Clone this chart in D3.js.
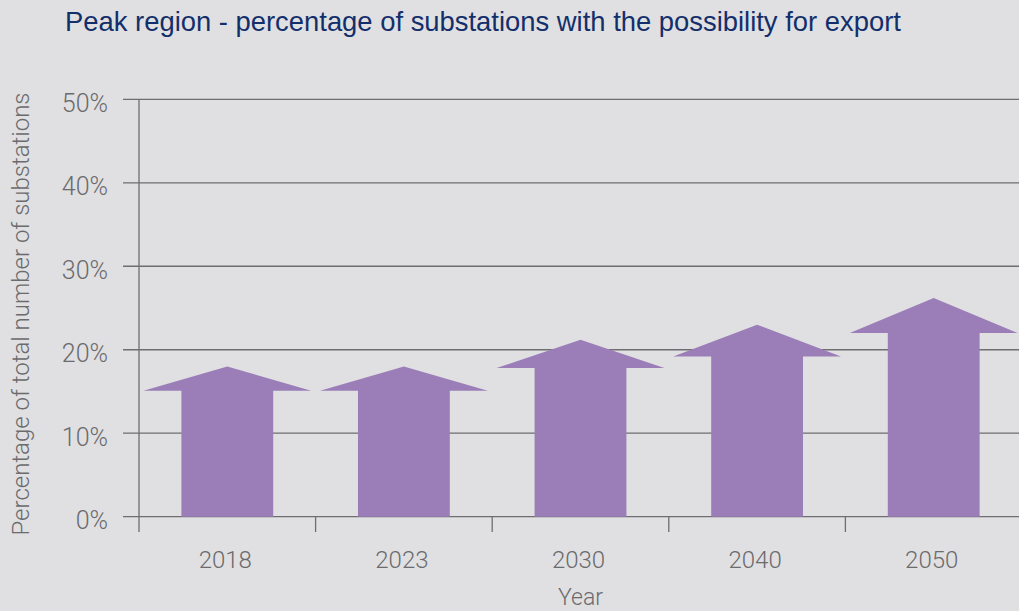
<!DOCTYPE html>
<head>
  <meta charset="utf-8">
  <script src="https://cdn.jsdelivr.net/npm/d3@7"></script>
  <style>
    body { margin: 0; background: #e0e0e2; }
    svg { display: block; }
    .title { font-family: "Liberation Sans", Arial, sans-serif; font-size: 27.4px; fill: #132f6b; }
    .lbl { font-family: Roboto, "Liberation Sans", sans-serif; font-weight: 300; fill: #6b6b6d; }
  </style>
</head>
<body>
  <div id="chartDiv"></div>
  <script>

    // data (percent)
    var years = ["2018", "2023", "2030", "2040", "2050"];
    var values = [15.1, 15.1, 17.8, 19.2, 22.0];   // top of the arrow shaft
    var tips = [18.0, 18.0, 21.2, 23.0, 26.2];     // tip of the arrow head
    var yTicks = [0, 10, 20, 30, 40, 50];

    var width = 1019, height = 611;
    var margin = {top: 99.3, left: 139, bottom: 516.7, right: 1022};

    var svg = d3.select("#chartDiv").append("svg")
        .attr("width", width)
        .attr("height", height);

    var x = d3.scaleBand()
        .domain(years)
        .range([margin.left, margin.right])
        .padding(0);

    var y = d3.scaleLinear()
        .domain([0, 50])
        .range([margin.bottom, margin.top]);

    svg.append("text")
        .attr("class", "title")
        .attr("x", 65)
        .attr("y", 31)
        .text("Peak region - percentage of substations with the possibility for export");

    // gridlines
    svg.selectAll("line.grid")
        .data(yTicks)
      .enter().append("line")
        .attr("class", "grid")
        .attr("x1", 123)
        .attr("x2", width)
        .attr("y1", function(d) { return y(d); })
        .attr("y2", function(d) { return y(d); })
        .style("stroke", "#6e6e70")
        .style("stroke-width", 1.3);

    svg.selectAll("text.ytick")
        .data(yTicks)
      .enter().append("text")
        .attr("class", "lbl ytick")
        .attr("x", 108)
        .attr("y", function(d) { return y(d) + 12.5; })
        .attr("text-anchor", "end")
        .style("font-size", "25px")
        .text(function(d) { return d + "%"; });

    // arrows
    var bw = x.bandwidth();
    svg.selectAll("path.arrow")
        .data(years)
      .enter().append("path")
        .attr("class", "arrow")
        .attr("d", function(d, i) {
          var x0 = x(d), c = x0 + bw / 2;
          var s = bw * 0.26, h = bw * 0.475;
          var y0 = y(0), ys = y(values[i]), yt = y(tips[i]);
          return "M" + (c - s) + "," + y0 +
                 "L" + (c - s) + "," + ys +
                 "L" + (c - h) + "," + ys +
                 "L" + c + "," + yt +
                 "L" + (c + h) + "," + ys +
                 "L" + (c + s) + "," + ys +
                 "L" + (c + s) + "," + y0 + "Z";
        })
        .style("fill", "#9b7eb8");

    // axis lines
    svg.append("line")
        .attr("x1", margin.left).attr("x2", margin.left)
        .attr("y1", margin.top).attr("y2", 532)
        .style("stroke", "#6e6e70")
        .style("stroke-width", 1.3);

    svg.selectAll("line.xtick")
        .data(years.slice(1))
      .enter().append("line")
        .attr("class", "xtick")
        .attr("x1", function(d) { return x(d); })
        .attr("x2", function(d) { return x(d); })
        .attr("y1", y(0))
        .attr("y2", 532)
        .style("stroke", "#6e6e70")
        .style("stroke-width", 1.3);

    svg.selectAll("text.xlbl")
        .data(years)
      .enter().append("text")
        .attr("class", "lbl xlbl")
        .attr("x", function(d) { return x(d) + bw / 2 - 2; })
        .attr("y", 567.5)
        .attr("text-anchor", "middle")
        .style("font-size", "24px")
        .text(function(d) { return d; });

    svg.append("text")
        .attr("class", "lbl")
        .attr("x", 580.5)
        .attr("y", 605)
        .attr("text-anchor", "middle")
        .style("font-size", "23px")
        .text("Year");

    svg.append("text")
        .attr("class", "lbl")
        .attr("transform", "translate(29,314) rotate(-90)")
        .attr("text-anchor", "middle")
        .style("font-size", "24px")
        .text("Percentage of total number of substations");

  </script>
</body>
